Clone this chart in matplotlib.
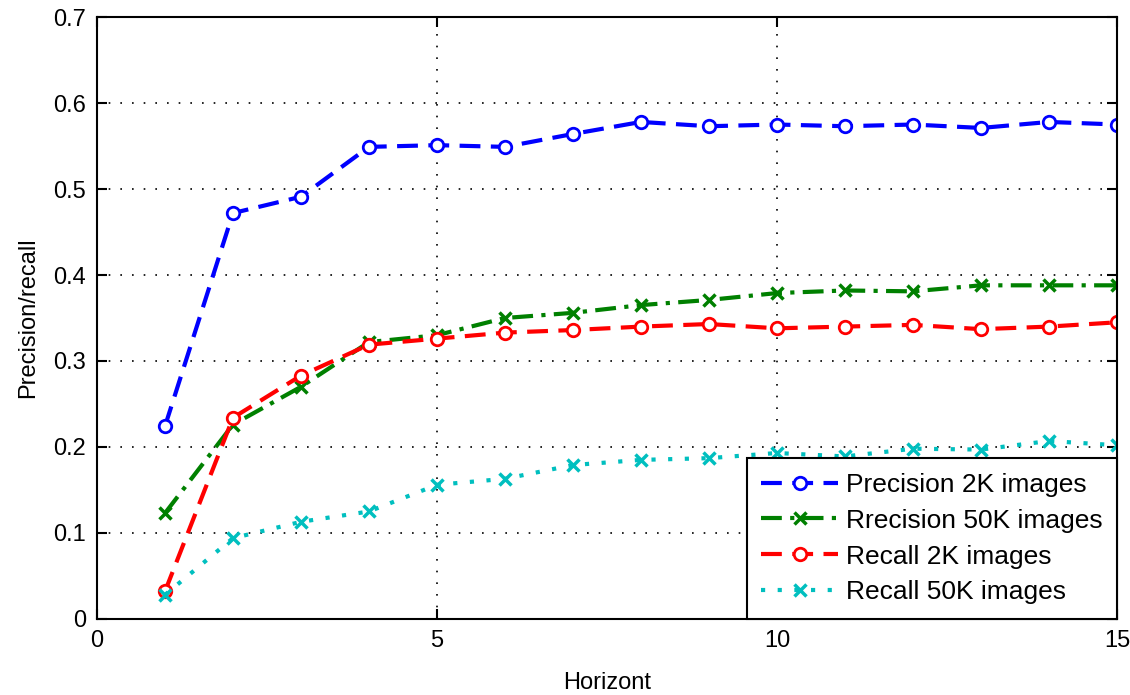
import matplotlib
matplotlib.use("Agg")
import matplotlib.pyplot as plt

horizon = list(range(1, 16))
precision_2k = [0.224, 0.472, 0.491, 0.549, 0.551, 0.549, 0.564, 0.578, 0.573,
                0.575, 0.573, 0.575, 0.571, 0.578, 0.575]
precision_50k = [0.123, 0.226, 0.270, 0.322, 0.330, 0.350, 0.356, 0.365, 0.371,
                 0.379, 0.382, 0.381, 0.388, 0.388, 0.388]
recall_2k = [0.032, 0.234, 0.283, 0.319, 0.326, 0.333, 0.336, 0.340, 0.343,
             0.338, 0.340, 0.342, 0.337, 0.340, 0.345]
recall_50k = [0.028, 0.094, 0.113, 0.125, 0.156, 0.163, 0.179, 0.185, 0.187,
              0.193, 0.189, 0.198, 0.197, 0.207, 0.202]

labels = ["Precision 2K images", "Rrecision 50K images",
          "Recall 2K images", "Recall 50K images"]

plt.rcParams['font.family'] = ['Liberation Sans', 'DejaVu Sans']

fig = plt.figure(figsize=(11.3, 6.95), dpi=100)
ax = fig.add_axes([0.0858, 0.1094, 0.9027, 0.8661])

ax.plot(horizon, precision_2k, color='#0000ff', ls=(0, (5, 2.5)), lw=3,
        marker='o', ms=9, mfc='white', mew=2, label=labels[0])
ax.plot(horizon, precision_50k, color='#008000', ls=(0, (5, 2, 1, 2)), lw=3,
        marker='x', ms=9, mew=2.5, label=labels[1])
ax.plot(horizon, recall_2k, color='#ff0000', ls=(0, (5, 2.5)), lw=3,
        marker='o', ms=9, mfc='white', mew=2, label=labels[2])
ax.plot(horizon, recall_50k, color='#00bfbf', ls=(0, (1, 3)), lw=3,
        marker='x', ms=9, mew=2.5, label=labels[3])

ax.set_xlim(0, 15)
ax.set_ylim(0, 0.7)
ax.set_xticks([0, 5, 10, 15])
ax.set_yticks([i / 10 for i in range(8)])
ax.set_yticklabels(['0', '0.1', '0.2', '0.3', '0.4', '0.5', '0.6', '0.7'])
ax.tick_params(direction='in', top=True, right=True, length=7, width=1.5,
               labelsize=17, pad=8)
ax.grid(True, color='black', ls=(0, (1, 6)), lw=1.2)
for s in ax.spines.values():
    s.set_linewidth(1.5)

ax.set_xlabel("Horizont", fontsize=17, labelpad=14)
ax.set_ylabel("Precision/recall", fontsize=17, labelpad=10)

leg = ax.legend(loc='lower right', fontsize=19, fancybox=False, framealpha=1,
                edgecolor='black', borderaxespad=0, handlelength=2.9,
                handletextpad=0.3, labelspacing=0.45, borderpad=0.55)
leg.get_frame().set_linewidth(1.5)

fig.savefig("out.png", dpi=100)
